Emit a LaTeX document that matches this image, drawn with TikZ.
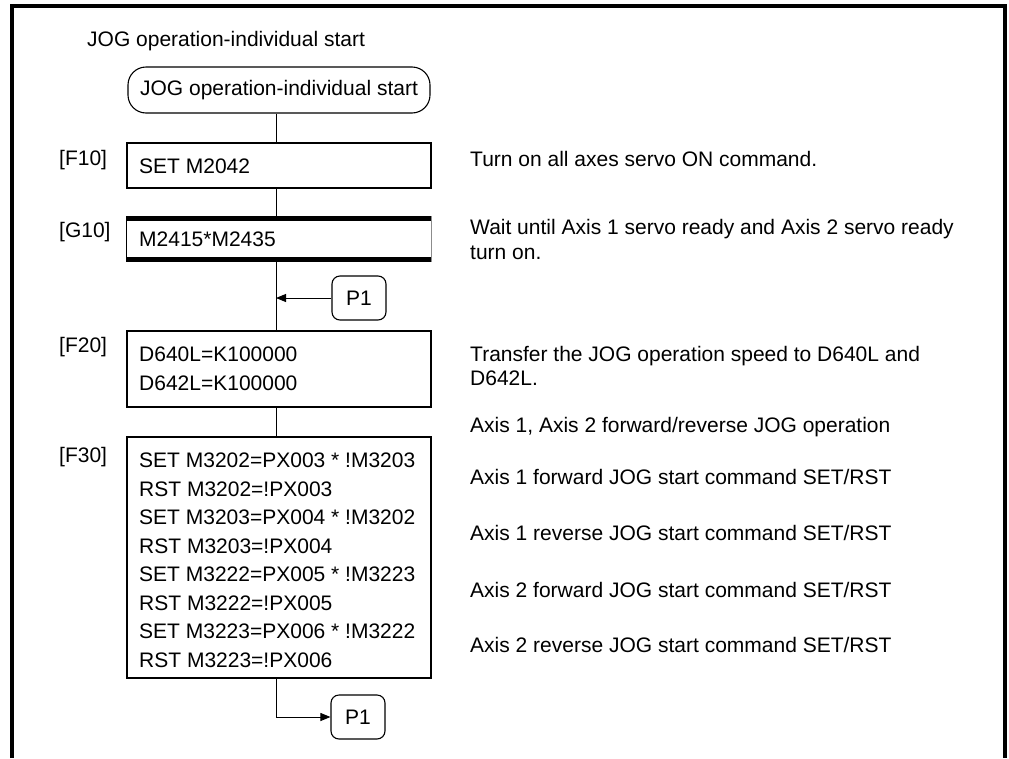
\documentclass[tikz,border=0pt]{standalone}
\usepackage{fontspec}
\setmainfont{Liberation Sans}
\usetikzlibrary{arrows.meta}
\begin{document}
\begin{tikzpicture}[x=1pt,y=-1pt,
  txt/.style={font=\fontsize{21}{28.5}\selectfont, inner sep=0pt, anchor=west, align=left},
  desc/.style={font=\fontsize{21}{24.3}\selectfont, inner sep=0pt, anchor=west, align=left},
  stepbox/.style={draw, line width=1.1pt, minimum width=304pt, inner sep=0pt},
  conn/.style={line width=0.9pt},
  arr/.style={conn, -{Triangle[length=10pt,width=8pt]}},
  p1box/.style={draw, rounded corners=8pt, minimum width=54pt, minimum height=44pt, inner sep=0pt, line width=1.1pt, font=\fontsize{21}{24}\selectfont},
  frame/.style={line width=4pt}]
\useasboundingbox (0,0) rectangle (1009,758);
% frame
\draw[frame] (11.7,758) -- (11.7,6.2) -- (1004.5,6.2) -- (1004.5,758);
\coordinate (mainx) at (276,0);
% title
\node[desc] (title) at (87,41) {JOG operation-individual start};
% terminal
\node[draw, line width=1.1pt, rounded corners=18pt, minimum width=302pt, minimum height=46pt, inner sep=0pt, font=\fontsize{21}{24}\selectfont] (term) at (279,90) {JOG operation-individual start};
% boxes
\node[stepbox, minimum height=45pt] (f10) at (279,165.5) {};
\node[draw=none, minimum width=304pt, minimum height=45pt, inner sep=0pt] (g10) at (279,239) {};
\draw[line width=1pt] (g10.north west) -- (g10.south west);
\draw[line width=1pt, black!45] (g10.north east) -- (g10.south east);
\draw[line width=5pt] ([yshift=-2.5pt]g10.north west) -- ([yshift=-2.5pt]g10.north east);
\draw[line width=5pt] ([yshift=2.5pt]g10.south west) -- ([yshift=2.5pt]g10.south east);
\node[stepbox, minimum height=76pt] (f20) at (279,369) {};
\node[stepbox, minimum height=241pt] (f30) at (279,557.5) {};
% step labels
\node[desc] (l10) at (59,160) {[F10]};
\node[desc] (l11) at (59,232) {[G10]};
\node[desc] (l20) at (59,347) {[F20]};
\node[desc] (l30) at (59,457) {[F30]};
% box texts
\node[txt] (t10) at (139,166.5) {SET M2042};
\node[txt] (t11) at (139,239) {M2415*M2435};
\node[txt] (t20) at (139,369) {D640L=K100000\\D642L=K100000};
\node[txt] (t30) at (139,560.3) {SET M3202=PX003 * !M3203\\RST M3202=!PX003\\SET M3203=PX004 * !M3202\\RST M3203=!PX004\\SET M3222=PX005 * !M3223\\RST M3222=!PX005\\SET M3223=PX006 * !M3222\\RST M3223=!PX006};
% descriptions
\node[desc] (d10) at (470,159) {Turn on all axes servo ON command.};
\node[desc] (d11) at (470,239.5) {Wait until Axis 1 servo ready and Axis 2 servo ready\\turn on.};
\node[desc] (d20) at (470,366) {Transfer the JOG operation speed to D640L and\\D642L.};
\node[desc] (d30) at (470,427) {Axis 1, Axis 2 forward/reverse JOG operation};
\node[desc] (d31) at (470,477) {Axis 1 forward JOG start command SET/RST};
\node[desc] (d32) at (470,533) {Axis 1 reverse JOG start command SET/RST};
\node[desc] (d33) at (470,590) {Axis 2 forward JOG start command SET/RST};
\node[desc] (d34) at (470,645) {Axis 2 reverse JOG start command SET/RST};
% P1 connectors
\node[p1box] (p1a) at (359,298) {P1};
\node[p1box] (p1b) at (358,717) {P1};
% connectors
\draw[conn] (term.south -| mainx) -- (f10.north -| mainx);
\draw[conn] (f10.south -| mainx) -- (g10.north -| mainx);
\draw[conn] (g10.south -| mainx) -- (f20.north -| mainx);
\draw[arr] (p1a.west) -- (p1a.west -| mainx);
\draw[conn] (f20.south -| mainx) -- (f30.north -| mainx);
\draw[arr] (f30.south -| mainx) |- (p1b.west);
\end{tikzpicture}
\end{document}
